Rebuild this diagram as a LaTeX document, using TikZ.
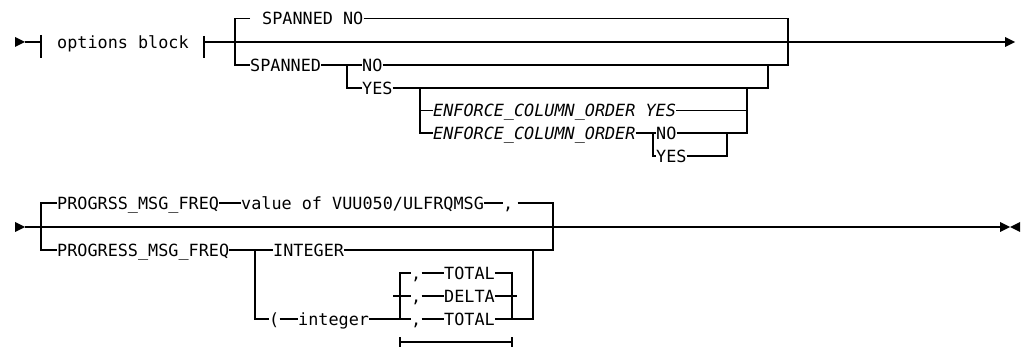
\documentclass[tikz,border=0pt]{standalone}
\usepackage{fontspec}
\newfontfamily\railfont{DejaVu Sans Mono}
\usetikzlibrary{positioning}

\begin{document}
\begin{tikzpicture}[
    x=1pt, y=-1pt,
    rail/.style={draw, line width=1.1pt},
    kw/.style={font=\fontsize{16.8}{20}\selectfont\railfont, inner sep=0pt,
        anchor=west, text height=12.2pt, text depth=0pt},
    var/.style={kw, font=\fontsize{16.8}{20}\selectfont\railfont\itshape},
    head/.style={fill=black}
]
\useasboundingbox (0,0) rectangle (1021,350);

% first line: options block
\coordinate (s1) at (15,42);
\coordinate (s1b) at (25,42);
\fill[head] (s1) ++(0,-5) -- ++(10,5) -- ++(-10,5) -- cycle;
\coordinate (tk1) at (41,42);
\draw[rail] (s1b) -- (tk1);
\draw[rail] (tk1) ++(0,-7) -- ++(0,23);
\node[kw] (opt) at (57,42) {options block};
\coordinate (tk2) at (204,42);
\draw[rail] (tk2) ++(0,-6) -- ++(0,22);
\coordinate (e1) at (1005,42);
\draw[rail] (tk2) -- (e1);
\fill[head] (e1) ++(0,-5) -- ++(10,5) -- ++(-10,5) -- cycle;

% SPANNED choice
\coordinate (b1) at (235,42);
\coordinate (b1t) at (250,18.5);
\coordinate (m1) at (788,42);
\node[kw] (spno) at (262,18.5) {SPANNED NO};
\node[kw] (spd) at (250,65) {SPANNED};
\draw[rail] (b1t) -| (b1) |- (spd.west);
\draw[rail] (spno.east) -| (m1);
\coordinate (b2) at (347,65);
\node[kw] (no1) at (362,65) {NO};
\node[kw] (yes1) at (362,88) {YES};
\draw[rail] (spd.east) -- (b2) -- (no1.west);
\draw[rail] (b2) |- (yes1.west);
\draw[rail] (no1.east) -| (m1);
\coordinate (m2) at (768,65);
\draw[rail] (yes1.east) -| (m2);

% ENFORCE_COLUMN_ORDER choice
\coordinate (b3) at (420,88);
\coordinate (m3) at (747,88);
\node[var] (ecy) at (433,110.5) {ENFORCE\_COLUMN\_ORDER YES};
\node[var] (ec) at (433,133) {ENFORCE\_COLUMN\_ORDER};
\draw[rail] (b3) |- (ecy.west);
\draw[rail] (b3) |- (ec.west);
\draw[rail] (ecy.east) -| (m3);
\coordinate (b4) at (653,133);
\coordinate (m4) at (727,133);
\node[kw] (no2) at (656,133) {NO};
\node[kw] (yes2) at (656,156) {YES};
\draw[rail] (ec.east) -- (b4) -- (no2.west);
\draw[rail] (b4) |- (yes2.west);
\draw[rail] (yes2.east) -| (m4);
\draw[rail] (no2.east) -- (m4) -| (m3);

% second line: progress message frequency
\coordinate (s2) at (15,227);
\coordinate (s2b) at (25,227);
\fill[head] (s2) ++(0,-5) -- ++(10,5) -- ++(-10,5) -- cycle;
\coordinate (e2) at (1000,227);
\draw[rail] (s2b) -- (e2);
\fill[head] (e2) ++(0,-5) -- ++(10,5) -- ++(-10,5) -- cycle;
\fill[head] (e2) ++(20,-5) -- ++(-10,5) -- ++(10,5) -- cycle;

\coordinate (b5) at (41,227);
\coordinate (m5) at (553,227);
\node[kw] (pmf) at (57,203) {PROGRSS\_MSG\_FREQ};
\node[kw] (dflt) at (241,203) {value of VUU050/ULFRQMSG};
\node[kw] (cm0) at (503,203) {,};
\draw[rail] (b5) |- (pmf.west);
\draw[rail] (pmf.east) -- (dflt.west);
\draw[rail] (dflt.east) -- (cm0.west);
\draw[rail] ([xshift=4pt]cm0.east) -| (m5);

\node[kw] (pgf) at (57,250) {PROGRESS\_MSG\_FREQ};
\coordinate (b6) at (255,250);
\node[kw] (intg) at (273,250) {INTEGER};
\draw[rail] (b5) |- (pgf.west);
\draw[rail] (pgf.east) -- (b6) -- (intg.west);
\draw[rail] (intg.east) -| (m5);

\node[kw] (lp) at (269,319) {(};
\node[kw] (ivar) at (298,319) {integer};
\draw[rail] (b6) |- (lp.west);
\draw[rail] (lp.east) -- (ivar.west);

% repeated comma choices
\node[kw] (cm1) at (411,273) {,};
\node[kw] (cm2) at (411,296) {,};
\node[kw] (cm3) at (411,319) {,};
\node[kw] (tot1) at (444,273) {TOTAL};
\node[kw] (dlt) at (444,296) {DELTA};
\node[kw] (tot2) at (444,319) {TOTAL};
\coordinate (rl) at (400,319);
\coordinate (rs) at (393,296);
\coordinate (rr) at (512,319);
\coordinate (rd) at (517,296);
\coordinate (m6) at (533,250);
\draw[rail] (ivar.east) -- (cm3.west);
\draw[rail] (rl) |- (cm1.west);
\draw[rail] (rs) -- (cm2.west);
\draw[rail] (cm1.east) -- (tot1.west);
\draw[rail] (cm2.east) -- (dlt.west);
\draw[rail] (cm3.east) -- (tot2.west);
\draw[rail] (tot1.east) -| (rr);
\draw[rail] (dlt.east) -- (rd);
\draw[rail] (tot2.east) -| (m6);

% repeat bar
\coordinate (rb1) at (400,342);
\coordinate (rb2) at (512,342);
\draw[rail] (rb1) -- (rb2);
\draw[rail] (rb1) ++(0,-5) -- ++(0,10);
\draw[rail] (rb2) ++(0,-5) -- ++(0,10);
\end{tikzpicture}
\end{document}
